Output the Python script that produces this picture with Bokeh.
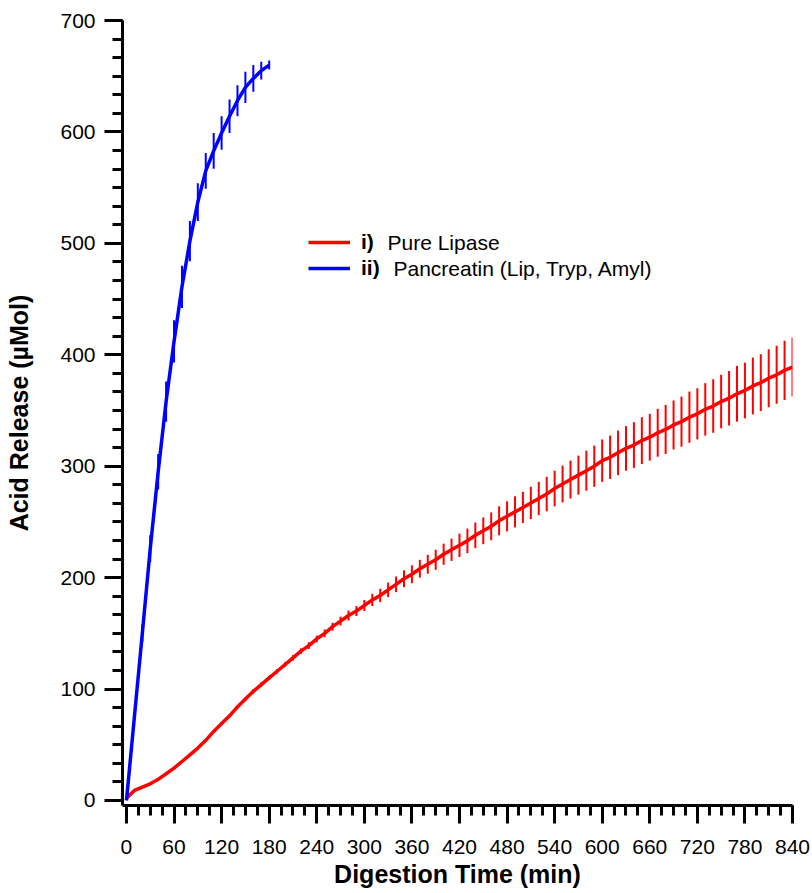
from bokeh.plotting import figure
from bokeh.models import (ColumnDataSource, Range1d, SingleIntervalTicker, Legend,
                          LegendItem, Label)
from bokeh.embed import file_html
from bokeh.resources import INLINE

# ---------------- data ----------------
red_time = list(range(0, 841, 10))
red_value = [2, 9, 12, 15, 19, 24, 29, 35, 41, 47, 54, 62, 69, 76, 84, 91, 98, 104, 110, 116,
             122, 128, 134, 139, 145, 150, 156, 161, 166, 170, 175, 180, 184, 189, 194, 199,
             203, 208, 212, 216, 221, 225, 229, 233, 238, 242, 246, 251, 255, 259, 263, 267,
             271, 275, 280, 284, 288, 292, 296, 300, 305, 308, 312, 316, 319, 323, 326, 330,
             333, 337, 340, 344, 347, 351, 354, 358, 361, 365, 368, 372, 375, 379, 382, 386, 389]
red_err = [0, 1, 1, 1, 1, 1, 1, 1, 1, 1, 1, 1, 1.5, 1.5, 1.5, 1.5, 2, 2, 2, 2, 2, 2.5, 2.5,
           3, 3, 3.5, 3.5, 4, 4.5, 4.5,
           5, 5.5, 6, 6.5, 7, 7.5, 8, 8, 8.5, 9,
           9.5, 10, 10.5, 11, 11.5, 12, 12.5, 13, 13.5, 14,
           14, 14.5, 15, 15.5, 16, 16.5, 17, 17.5, 18, 18.5,
           19, 19.5, 20, 20, 20.5, 21, 21, 21.5, 22, 22,
           22.5, 23, 23, 23.5, 24, 24, 24.5, 25, 25, 25.5,
           25.5, 26, 26, 26.5, 26.5]

blue_time = list(range(0, 181, 10))
blue_value = [0, 75, 150, 226, 295, 358, 412, 461, 502, 537, 565, 583, 599, 614, 628, 640,
              648, 655, 660]
blue_err = [0, 3, 8, 12, 16, 18, 19, 19, 18, 17, 16, 16, 15, 15, 14, 14, 12, 8, 4]

x_ticks_interval = 60
y_ticks_interval = 100
legend_tags = ["i)", "ii)"]
legend_texts = ["Pure Lipase", "Pancreatin (Lip, Tryp, Amyl)"]

RED = "#FF0000"
BLUE = "#0000FF"
FONT = "Liberation Sans"

# ---------------- figure ----------------
p = figure(width=812, height=893, output_backend="svg", toolbar_location=None,
           x_range=Range1d(-5, 840), y_range=Range1d(-4.5, 700),
           min_border_left=122, min_border_right=20, min_border_top=20, min_border_bottom=88)
p.outline_line_color = None
p.xgrid.visible = False
p.ygrid.visible = False
p.background_fill_color = "white"
p.border_fill_color = "white"

def seg_source(t, v, e):
    return ColumnDataSource(dict(x=t, y0=[a - b for a, b in zip(v, e)],
                                 y1=[a + b for a, b in zip(v, e)]))

rs = seg_source(red_time, red_value, red_err)
bs = seg_source(blue_time, blue_value, blue_err)

p.segment(x0="x", y0="y0", x1="x", y1="y1", source=rs, line_color=RED, line_width=2)
p.segment(x0="x", y0="y0", x1="x", y1="y1", source=bs, line_color=BLUE, line_width=2)
r_red = p.line(red_time, red_value, line_color=RED, line_width=3.5)
r_blue = p.line(blue_time, blue_value, line_color=BLUE, line_width=3.5)

# axes
for ax in (p.xaxis[0], p.yaxis[0]):
    ax.axis_line_width = 3
    ax.major_tick_line_width = 3
    ax.minor_tick_line_width = 3
    ax.major_tick_in = 0
    ax.major_tick_out = 18
    ax.minor_tick_in = 0
    ax.minor_tick_out = 10
    ax.major_label_text_font = FONT
    ax.major_label_text_font_size = "21px"
    ax.major_label_text_color = "black"
    ax.axis_label_text_font = FONT
    ax.axis_label_text_font_size = "25px"
    ax.axis_label_text_font_style = "bold"
    ax.axis_label_text_color = "black"

p.xaxis.ticker = SingleIntervalTicker(interval=x_ticks_interval, num_minor_ticks=4)
p.yaxis.ticker = SingleIntervalTicker(interval=y_ticks_interval, num_minor_ticks=6)
p.xaxis.axis_label = "Digestion Time (min)"
p.yaxis.axis_label = "Acid Release (µMol)"
p.xaxis.major_label_standoff = 16
p.xaxis.axis_label_standoff = 3
p.yaxis.major_label_standoff = 9
p.yaxis.axis_label_standoff = 24

# legend
legend = Legend(items=[LegendItem(label=legend_tags[0], renderers=[r_red]),
                       LegendItem(label=legend_tags[1], renderers=[r_blue])],
                location=(186, 524), orientation="vertical")
legend.glyph_width = 42
legend.glyph_height = 26
legend.label_height = 26
legend.label_standoff = 11
legend.padding = 0
legend.margin = 0
legend.spacing = 0
legend.border_line_color = None
legend.background_fill_alpha = 0
legend.label_text_font = FONT
legend.label_text_font_size = "21px"
legend.label_text_font_style = "bold"
legend.label_text_color = "black"
p.add_layout(legend)

for txt, sx, sy in ((legend_texts[0], 265, 563), (legend_texts[1], 271, 537)):
    p.add_layout(Label(x=sx, y=sy, x_units="screen", y_units="screen", text=txt,
                       text_font=FONT, text_font_size="21px", text_baseline="middle",
                       text_color="black"))

open("out.html", "w").write(file_html(p, INLINE))
